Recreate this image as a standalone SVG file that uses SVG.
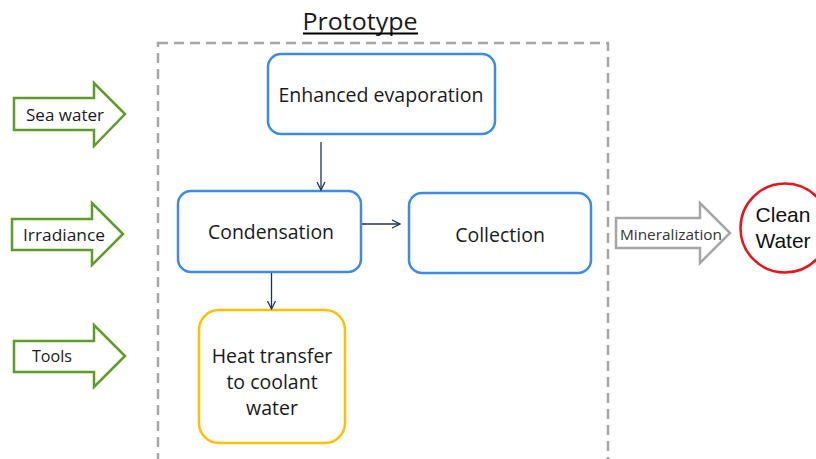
<svg xmlns="http://www.w3.org/2000/svg" width="816" height="459" viewBox="0 0 816 459">
<style>
text{font-family:"Open Sans","Noto Sans",sans-serif;fill:#1a1a1a;text-anchor:middle;dominant-baseline:central}
.box{fill:#fff;stroke:#3c8ce7;stroke-width:2.5}
.yel{fill:#fff;stroke:#ffc000;stroke-width:2.5}
.garr{fill:#fff;stroke:#5e9c2a;stroke-width:2.5;stroke-linejoin:miter}
.conn{stroke:#1f3251;stroke-width:1.3;fill:none}
.lbl{font-size:19.5px}
.sm{font-size:16px}
.cw{font-family:"Liberation Sans",Arial,sans-serif;font-size:21px;fill:#111}
</style>
<defs>
<marker id="ah" viewBox="0 0 10 10" refX="9" refY="5" markerWidth="10" markerHeight="10" markerUnits="userSpaceOnUse" orient="auto">
<path d="M1,1 L9,5 L1,9" fill="none" stroke="#1f3251" stroke-width="1.3"/>
</marker>
</defs>
<g id="prototype">
<rect x="158" y="43" width="450" height="440" fill="none" stroke="#a6a6a6" stroke-width="2.5" stroke-dasharray="10 6"/>
<text x="360" y="20" style="font-size:24px" textLength="115" lengthAdjust="spacingAndGlyphs">Prototype</text>
<line x1="303" y1="33.5" x2="418" y2="33.5" stroke="#000" stroke-width="1.8"/>
</g>
<g id="sea-water">
<path class="garr" d="M14,98 H94 V83 L125,114 L94,146 V130 H14 Z"/>
<text class="sm" x="65" y="115" textLength="78" lengthAdjust="spacingAndGlyphs">Sea water</text>
</g>
<g id="irradiance">
<path class="garr" d="M12,219 H92 V203 L123,234 L92,265 V250 H12 Z"/>
<text class="sm" x="64" y="235" textLength="82" lengthAdjust="spacingAndGlyphs">Irradiance</text>
</g>
<g id="tools">
<path class="garr" d="M14,341 H94 V325 L125,356 L94,387 V372 H14 Z"/>
<text class="sm" x="52" y="356" textLength="40" lengthAdjust="spacingAndGlyphs">Tools</text>
</g>
<g id="enhanced-evaporation">
<rect class="box" x="268" y="54" width="227" height="80" rx="13"/>
<text class="lbl" x="381" y="94" textLength="205" lengthAdjust="spacingAndGlyphs">Enhanced evaporation</text>
</g>
<g id="condensation">
<rect class="box" x="178" y="191" width="183" height="81" rx="13"/>
<text class="lbl" x="271" y="231" textLength="126" lengthAdjust="spacingAndGlyphs">Condensation</text>
</g>
<g id="collection">
<rect class="box" x="409" y="193" width="182" height="80" rx="13"/>
<text class="lbl" x="500" y="234">Collection</text>
</g>
<g id="heat-transfer">
<rect class="yel" x="199" y="310" width="146" height="133" rx="20"/>
<text class="lbl" x="272" y="355">Heat transfer</text>
<text class="lbl" x="272" y="381">to coolant</text>
<text class="lbl" x="272" y="407">water</text>
</g>
<g id="mineralization">
<path d="M616,218 H700 V203 L730,233 L700,263 V248 H616 Z" fill="#fff" stroke="#a6a6a6" stroke-width="2.5"/>
<text x="671" y="234" style="font-size:15px;fill:#333" textLength="102" lengthAdjust="spacingAndGlyphs">Mineralization</text>
</g>
<g id="clean-water">
<circle cx="785" cy="228" r="44.5" fill="#fff" stroke="#e8141c" stroke-width="2.5"/>
<text class="cw" x="783" y="214">Clean</text>
<text class="cw" x="783" y="240">Water</text>
</g>
<g id="connectors">
<line class="conn" x1="321" y1="142" x2="321" y2="190" marker-end="url(#ah)"/>
<line class="conn" x1="362" y1="224" x2="400" y2="224" marker-end="url(#ah)"/>
<line class="conn" x1="271.5" y1="273" x2="271.5" y2="309" marker-end="url(#ah)"/>
</g>
</svg>
